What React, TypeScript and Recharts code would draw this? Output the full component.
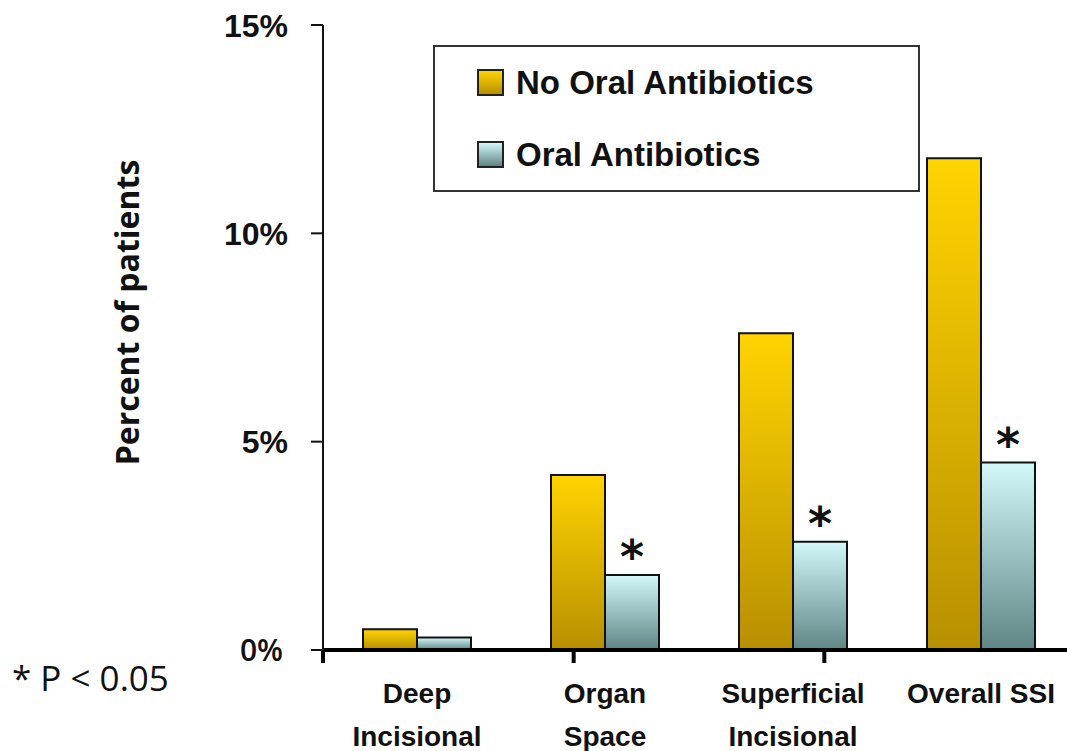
import React from "react";
import { BarChart, Bar, XAxis, YAxis, Legend, LabelList } from "recharts";

// Surgical site infection by type
const categories = ["Deep\nIncisional", "Organ\nSpace", "Superficial\nIncisional", "Overall SSI"];
const noOralValues = [0.5, 4.2, 7.6, 11.8];
const oralValues = [0.3, 1.8, 2.6, 4.5];
const significant = [false, true, true, true];
const yTicks = [0, 5, 10, 15];
const edgeTicks = [0, 1, 2, 3, 4];
const seriesNames = ["No Oral Antibiotics", "Oral Antibiotics"];

const data = categories.map((name, i) => ({
  name,
  noOral: noOralValues[i],
  oral: oralValues[i],
  star: significant[i] ? "*" : "",
}));

const ARIAL = "'Liberation Sans', Arial, sans-serif";
const CALIBRI = "'Open Sans', sans-serif";

const swatch: Record<string, string> = {
  noOral: "linear-gradient(#ffd400, #b88f00)",
  oral: "linear-gradient(#d2f8fa, #5f8585)",
};

function CategoryTick(props: any) {
  const { x, y, payload } = props;
  const lines = String(payload.value).split("\n");
  return (
    <g>
      {lines.map((line, i) => (
        <text
          key={i}
          x={x}
          y={y + 53 + i * 43}
          textAnchor="middle"
          fontFamily={ARIAL}
          fontWeight="bold"
          fontSize={28}
          fill="#111"
        >
          {line}
        </text>
      ))}
    </g>
  );
}

function PercentTick(props: any) {
  const { x, y, payload } = props;
  const zero = payload.value === 0;
  return (
    <text
      x={zero ? x - 5 : x}
      y={y}
      dy="0.36em"
      textAnchor="end"
      fontFamily={zero ? CALIBRI : ARIAL}
      fontWeight={zero ? 600 : "bold"}
      fontSize={zero ? 30 : 32}
      fill="#111"
    >
      {payload.value}%
    </text>
  );
}

function YLabel(props: any) {
  const { viewBox } = props;
  const cx = viewBox.x + 126;
  const cy = viewBox.y + viewBox.height / 2 - 25;
  return (
    <text
      x={cx}
      y={cy}
      transform={`rotate(-90, ${cx}, ${cy})`}
      textAnchor="middle"
      dominantBaseline="central"
      fontFamily={CALIBRI}
      fontWeight="bold"
      fontSize={32}
      fill="#111"
    >
      Percent of patients
    </text>
  );
}

function Star(props: any) {
  const { x, y, width, value } = props;
  if (!value) return null;
  return (
    <text
      x={x + width / 2}
      y={y - 2}
      textAnchor="middle"
      fontFamily="'DejaVu Sans', sans-serif"
      fontWeight="bold"
      fontSize={46}
      fill="#111"
    >
      {value}
    </text>
  );
}

function LegendBox(props: any) {
  const payload = props.payload || [];
  return (
    <div
      style={{
        width: 487,
        height: 147,
        boxSizing: "border-box",
        border: "2px solid #333",
        background: "#fff",
        position: "relative",
      }}
    >
      {payload.map((entry: any, i: number) => (
        <div
          key={entry.dataKey}
          style={{
            position: "absolute",
            left: 42,
            top: 22 + i * 72,
            display: "flex",
            alignItems: "center",
            height: 27,
          }}
        >
          <div
            style={{
              width: 27,
              height: 27,
              boxSizing: "border-box",
              border: "2px solid #222",
              background: swatch[entry.dataKey],
            }}
          />
          <span
            style={{
              marginLeft: 12,
              fontFamily: ARIAL,
              fontWeight: "bold",
              fontSize: 33,
              color: "#111",
              whiteSpace: "nowrap",
            }}
          >
            {entry.value}
          </span>
        </div>
      ))}
    </div>
  );
}

export default function App() {
  return (
    <div style={{ position: "relative", width: 1067, height: 751, background: "#fff" }}>
      <style>{"body{margin:0}"}</style>
      <BarChart
        width={1067}
        height={751}
        data={data}
        margin={{ top: 25, right: -8, bottom: 0, left: 0 }}
        barGap={0}
        barSize={54}
      >
        <defs>
          <linearGradient id="gradNoOral" x1="0" y1="0" x2="0" y2="1">
            <stop offset="0%" stopColor="#ffd400" />
            <stop offset="100%" stopColor="#b88f00" />
          </linearGradient>
          <linearGradient id="gradOral" x1="0" y1="0" x2="0" y2="1">
            <stop offset="0%" stopColor="#d2f8fa" />
            <stop offset="100%" stopColor="#5f8585" />
          </linearGradient>
        </defs>
        {/* category axis sits right on the plot; its labels hang below */}
        <XAxis
          xAxisId="cat"
          dataKey="name"
          interval={0}
          axisLine={{ stroke: "#000", strokeWidth: 4 }}
          tickLine={false}
          tickSize={0}
          tickMargin={0}
          tick={<CategoryTick />}
          height={1}
        />
        {/* numeric axis only for tick marks between categories */}
        <XAxis
          xAxisId="edges"
          type="number"
          domain={[0, 4]}
          ticks={edgeTicks}
          interval={0}
          allowDataOverflow
          axisLine={false}
          tickFormatter={() => ""}
          tickLine={{ stroke: "#000", strokeWidth: 4 }}
          tickSize={12}
          height={100}
        />
        <YAxis
          width={323}
          domain={[0, 15]}
          ticks={yTicks}
          interval={0}
          axisLine={{ stroke: "#111", strokeWidth: 2 }}
          tickLine={{ stroke: "#111", strokeWidth: 2 }}
          tickSize={12}
          tickMargin={23}
          tick={<PercentTick />}
          label={<YLabel />}
        />
        <Legend
          layout="vertical"
          verticalAlign="middle"
          align="center"
          wrapperStyle={{ left: 433, top: 45, width: 487, height: 147 }}
          content={<LegendBox />}
        />
        <Bar
          xAxisId="cat"
          dataKey="noOral"
          name={seriesNames[0]}
          fill="url(#gradNoOral)"
          stroke="#111"
          strokeWidth={2}
          isAnimationActive={false}
        />
        <Bar
          xAxisId="cat"
          dataKey="oral"
          name={seriesNames[1]}
          fill="url(#gradOral)"
          stroke="#111"
          strokeWidth={2}
          isAnimationActive={false}
        >
          <LabelList dataKey="star" content={<Star />} />
        </Bar>
      </BarChart>
      <div
        style={{
          position: "absolute",
          left: 12,
          top: 654,
          fontFamily: CALIBRI,
          fontSize: 35,
          color: "#111",
          whiteSpace: "nowrap",
        }}
      >
        * P &lt; 0.05
      </div>
    </div>
  );
}
